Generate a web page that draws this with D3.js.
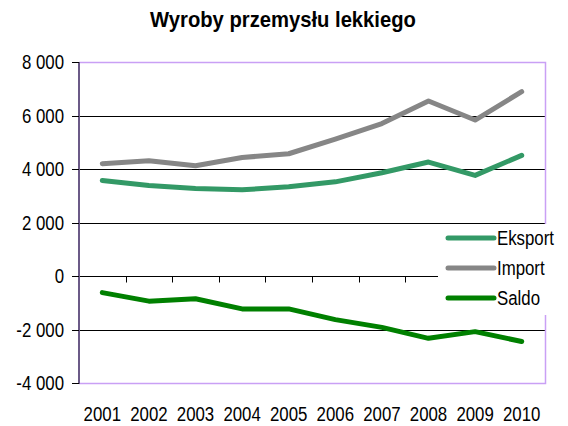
<!DOCTYPE html>
<html>
<head>
<meta charset="utf-8">
<script src="https://cdn.jsdelivr.net/npm/d3@7"></script>
<style>
  html, body { margin: 0; padding: 0; background: #fff; }
  svg { display: block; }
  text { font-family: "Liberation Sans", Arial, sans-serif; }
</style>
</head>
<body>
<svg id="chart" width="568" height="426"></svg>
<script>
// dane
const years = ["2001", "2002", "2003", "2004", "2005", "2006", "2007", "2008", "2009", "2010"];
const eksport = [3570, 3380, 3270, 3220, 3340, 3520, 3860, 4260, 3760, 4510];
const importVals = [4200, 4310, 4120, 4430, 4570, 5120, 5700, 6540, 5830, 6890];
const saldo = [-620, -940, -850, -1230, -1230, -1630, -1920, -2330, -2080, -2450];
const yTicks = [-4000, -2000, 0, 2000, 4000, 6000, 8000];

const series = [
  { name: "Eksport", values: eksport, color: "#339966" },
  { name: "Import", values: importVals, color: "#868686" },
  { name: "Saldo", values: saldo, color: "#008000" }
];

const svg = d3.select("#chart");
const pLeft = 79, pRight = 545, pTop = 62, pBottom = 383;

const x = d3.scaleBand().domain(years).range([pLeft, pRight]);
const y = d3.scaleLinear().domain([-4000, 8000]).range([pBottom, pTop]);
const fmt = v => d3.format(",")(v).replace(/,/g, " ").replace("−", "-");

// zwężenie tekstu (brak fontu Arial Narrow)
function narrow(sel, k) {
  sel.each(function() {
    const w = this.getComputedTextLength();
    d3.select(this).attr("textLength", w * k).attr("lengthAdjust", "spacingAndGlyphs");
  });
}

// tytuł
svg.append("text")
  .attr("x", 283)
  .attr("y", 27)
  .attr("text-anchor", "middle")
  .style("font-weight", "bold")
  .style("font-size", "21.5px")
  .text("Wyroby przemysłu lekkiego")
  .call(narrow, 0.94);

// linie siatki
svg.append("g")
  .selectAll("line")
  .data(yTicks.filter(v => v !== 0 && v !== 8000 && v !== -4000))
  .enter()
  .append("line")
  .attr("x1", pLeft).attr("x2", pRight)
  .attr("y1", d => Math.round(y(d)) + 0.5)
  .attr("y2", d => Math.round(y(d)) + 0.5)
  .attr("stroke", "#000")
  .attr("stroke-width", 1);

// ramka obszaru wykresu
svg.append("path")
  .attr("d", `M${pLeft},${pTop + 0.5}H${pRight + 0.5}V${pBottom + 0.5}H${pLeft}`)
  .attr("fill", "none")
  .attr("stroke", "#c9a0f5")
  .attr("stroke-width", 1.5);

// oś X (na poziomie 0)
const xAxis = svg.append("g").attr("transform", `translate(0,${Math.round(y(0)) + 0.5})`);
xAxis.append("line")
  .attr("x1", pLeft - 7).attr("x2", pRight)
  .attr("stroke", "#000").attr("stroke-width", 1);
xAxis.selectAll("line.tick")
  .data(years.slice(1))
  .enter()
  .append("line")
  .attr("class", "tick")
  .attr("x1", d => Math.round(x(d)) + 0.5)
  .attr("x2", d => Math.round(x(d)) + 0.5)
  .attr("y1", 0).attr("y2", 6)
  .attr("stroke", "#000");

// etykiety lat
svg.append("g")
  .selectAll("text")
  .data(years)
  .enter()
  .append("text")
  .attr("x", d => x(d) + x.bandwidth() / 2)
  .attr("y", 421)
  .attr("text-anchor", "middle")
  .style("font-size", "20.5px")
  .attr("fill", "#000")
  .text(d => d)
  .call(narrow, 0.82);

// oś Y
const yAxis = svg.append("g").attr("transform", `translate(${pLeft},0)`);
yAxis.append("line")
  .attr("y1", pTop).attr("y2", pBottom + 1)
  .attr("stroke", "#6b5a87").attr("stroke-width", 2);
yAxis.selectAll("line.tick")
  .data(yTicks)
  .enter()
  .append("line")
  .attr("class", "tick")
  .attr("x1", -7).attr("x2", 0)
  .attr("y1", d => Math.round(y(d)) + 0.5)
  .attr("y2", d => Math.round(y(d)) + 0.5)
  .attr("stroke", "#000");
yAxis.selectAll("text")
  .data(yTicks)
  .enter()
  .append("text")
  .attr("x", -15)
  .attr("y", d => y(d))
  .attr("dy", "0.36em")
  .attr("text-anchor", "end")
  .style("font-size", "20.5px")
  .text(fmt)
  .call(narrow, 0.82);

// linie serii
const line = d3.line()
  .x((d, i) => x(years[i]) + x.bandwidth() / 2)
  .y(d => y(d));

svg.append("g")
  .selectAll("path")
  .data(series)
  .enter()
  .append("path")
  .attr("d", d => line(d.values))
  .attr("fill", "none")
  .attr("stroke", d => d.color)
  .attr("stroke-width", 5)
  .attr("stroke-linejoin", "round")
  .attr("stroke-linecap", "round");

// legenda
const legend = svg.append("g");
legend.append("rect")
  .attr("x", 438).attr("y", 224)
  .attr("width", 130).attr("height", 91)
  .attr("fill", "#fff");
const item = legend.selectAll("g.item")
  .data(series)
  .enter()
  .append("g")
  .attr("class", "item")
  .attr("transform", (d, i) => `translate(0,${238 + i * 30})`);
item.append("line")
  .attr("x1", 448).attr("x2", 494)
  .attr("stroke", d => d.color)
  .attr("stroke-width", 5)
  .attr("stroke-linecap", "round");
item.append("text")
  .attr("x", 497)
  .attr("dy", "0.36em")
  .style("font-size", "20.5px")
  .text(d => d.name)
  .call(narrow, 0.82);
</script>
</body>
</html>
